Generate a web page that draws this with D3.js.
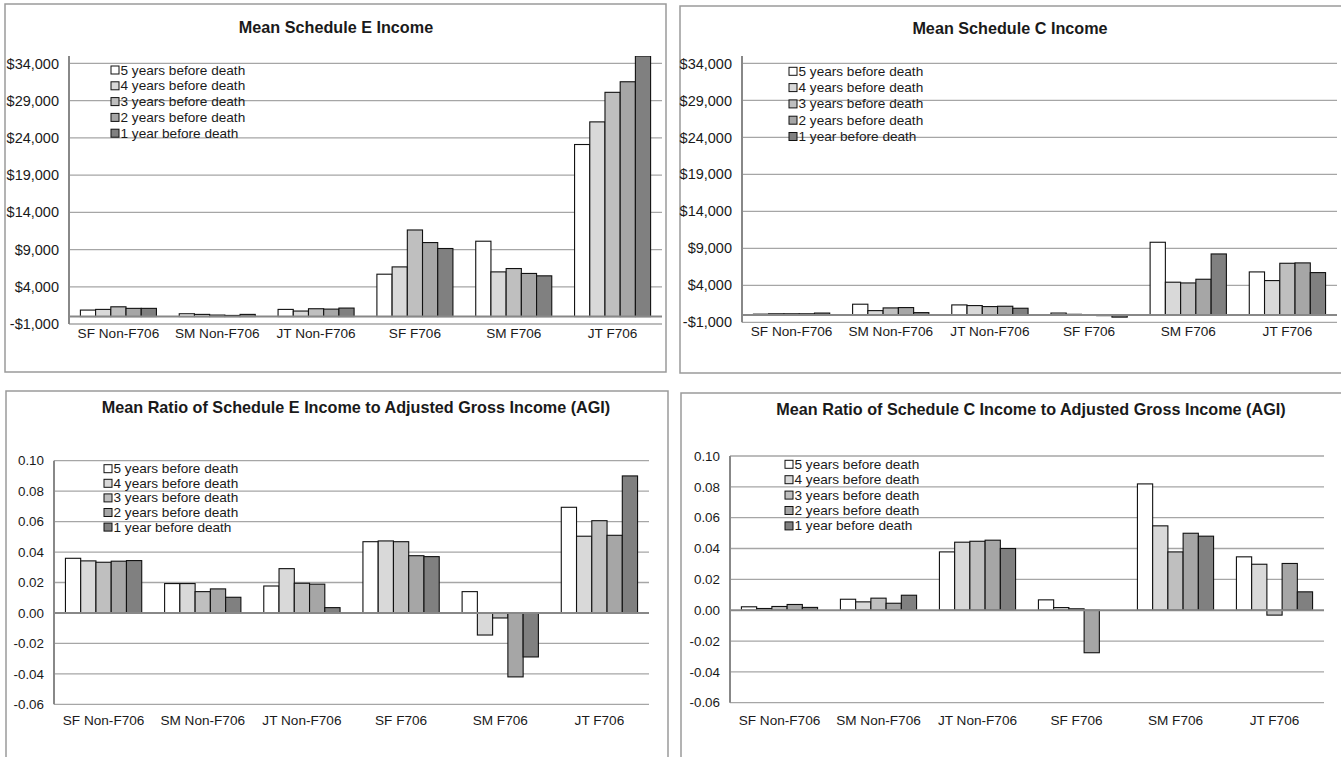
<!DOCTYPE html>
<html>
<head>
<meta charset="utf-8">
<script src="https://cdn.jsdelivr.net/npm/d3@7"></script>
<style>
  html, body { margin: 0; padding: 0; background: #fff; }
  svg { display: block; font-family: "Liberation Sans", Arial, sans-serif; }
</style>
</head>
<body>
<svg id="chart" width="1341" height="757"></svg>
<script>
// Filer groups shown along the x axis of every panel
const categories = ["SF Non-F706", "SM Non-F706", "JT Non-F706", "SF F706", "SM F706", "JT F706"];

// Years before death, one bar per entry within each group
const seriesNames = [
  "5 years before death",
  "4 years before death",
  "3 years before death",
  "2 years before death",
  "1 year before death"
];
const seriesColors = ["#ffffff", "#d9d9d9", "#bfbfbf", "#a6a6a6", "#808080"];

// Mean Schedule E income (dollars), rows follow categories, columns follow seriesNames
const scheduleEIncome = [
  [870, 960, 1310, 1100, 1100],
  [375, 290, 200, 150, 290],
  [960, 740, 1050, 1000, 1140],
  [5690, 6670, 11630, 9940, 9140],
  [10120, 6000, 6450, 5790, 5470],
  [23110, 26150, 30120, 31540, 35000]
];

// Mean Schedule C income (dollars)
const scheduleCIncome = [
  [100, 150, 150, 150, 250],
  [1445, 580, 945, 990, 310],
  [1350, 1260, 1125, 1170, 900],
  [250, 80, 40, -100, -300],
  [9820, 4420, 4320, 4820, 8240],
  [5810, 4640, 6980, 7030, 5720]
];

// Mean ratio of Schedule E income to AGI
const scheduleERatio = [
  [0.0359, 0.0342, 0.0333, 0.0340, 0.0344],
  [0.0193, 0.0193, 0.0140, 0.0158, 0.0103],
  [0.0177, 0.0291, 0.0195, 0.0189, 0.0035],
  [0.0468, 0.0473, 0.0468, 0.0376, 0.0370],
  [0.0140, -0.0145, -0.0033, -0.0420, -0.0289],
  [0.0694, 0.0504, 0.0606, 0.0510, 0.0900]
];

// Mean ratio of Schedule C income to AGI
const scheduleCRatio = [
  [0.0022, 0.0011, 0.0024, 0.0037, 0.0018],
  [0.0071, 0.0054, 0.0078, 0.0045, 0.0097],
  [0.0378, 0.0441, 0.0447, 0.0454, 0.0400],
  [0.0067, 0.0017, 0.0009, -0.0276, 0.0000],
  [0.0819, 0.0547, 0.0378, 0.0499, 0.0480],
  [0.0346, 0.0298, -0.0032, 0.0303, 0.0119]
];

// Axis tick values
const dollarTicks = [-1000, 4000, 9000, 14000, 19000, 24000, 29000, 34000];
const ratioTicks = [-0.06, -0.04, -0.02, 0.00, 0.02, 0.04, 0.06, 0.08, 0.10];

const fmtThousands = d3.format(",");
const dollarFormat = v => (v < 0 ? "-$" : "$") + fmtThousands(Math.abs(v));
const ratioFormat = v => (v < 0 ? "-" : "") + Math.abs(v).toFixed(2);

const svg = d3.select("#chart");

const panels = [
  {
    id: "p1", title: "Mean Schedule E Income", data: scheduleEIncome,
    frame: { x: 5, y: 4, w: 661, h: 368 },
    plot: { left: 69, right: 662, top: 56, bottom: 324 },
    domain: [-1000, 35000], ticks: dollarTicks, format: dollarFormat, tickSize: 14.5,
    titlePos: [336, 27], catY: 333,
    legend: { x: 111, y: 70, step: 15.8 }
  },
  {
    id: "p2", title: "Mean Schedule C Income", data: scheduleCIncome,
    frame: { x: 680, y: 6, w: 664, h: 367 },
    plot: { left: 742, right: 1337, top: 56, bottom: 322.3 },
    domain: [-1000, 35000], ticks: dollarTicks, format: dollarFormat, tickSize: 14.5,
    titlePos: [1010, 28.3], catY: 331.7,
    legend: { x: 789, y: 71.3, step: 16.3 }
  },
  {
    id: "p3", title: "Mean Ratio of Schedule E Income to Adjusted Gross Income (AGI)", data: scheduleERatio,
    frame: { x: 6, y: 391, w: 662, h: 380 },
    plot: { left: 54, right: 649, top: 460.7, bottom: 704.3 },
    domain: [-0.06, 0.10], ticks: ratioTicks, format: ratioFormat, tickSize: 13.4,
    titlePos: [356, 406.7], catY: 720.7,
    legend: { x: 104, y: 468.7, step: 14.6 }
  },
  {
    id: "p4", title: "Mean Ratio of Schedule C Income to Adjusted Gross Income (AGI)", data: scheduleCRatio,
    frame: { x: 681, y: 393, w: 664, h: 380 },
    plot: { left: 730, right: 1324, top: 456, bottom: 702.7 },
    domain: [-0.06, 0.10], ticks: ratioTicks, format: ratioFormat, tickSize: 13.4,
    titlePos: [1031, 409.3], catY: 720,
    legend: { x: 785, y: 464.3, step: 15.4 }
  }
];

panels.forEach(p => {
  const g = svg.append("g").attr("class", "panel " + p.id);

  // chart area border
  g.append("rect")
    .attr("x", p.frame.x).attr("y", p.frame.y)
    .attr("width", p.frame.w).attr("height", p.frame.h)
    .attr("fill", "#fff").attr("stroke", "#9a9a9a").attr("stroke-width", 1.5);

  // title
  g.append("text")
    .attr("x", p.titlePos[0]).attr("y", p.titlePos[1])
    .attr("text-anchor", "middle").attr("dominant-baseline", "central")
    .attr("font-size", 16.2).attr("font-weight", "bold").attr("fill", "#1a1a1a")
    .text(p.title);

  const y = d3.scaleLinear().domain(p.domain).range([p.plot.bottom, p.plot.top]);
  const x0 = d3.scaleBand().domain(categories).range([p.plot.left, p.plot.right]).padding(0);
  const x1 = d3.scaleBand().domain(seriesNames).range([0, x0.bandwidth()])
    .paddingInner(0).paddingOuter(0.75);

  // horizontal gridlines
  g.append("g").selectAll("line")
    .data(p.ticks.filter(t => Math.abs(t) > 1e-9))
    .join("line")
    .attr("x1", p.plot.left).attr("x2", p.plot.right)
    .attr("y1", d => y(d)).attr("y2", d => y(d))
    .attr("stroke", "#a6a6a6").attr("stroke-width", 1.3);

  // y axis with tick labels
  const yAxis = d3.axisLeft(y).tickValues(p.ticks).tickFormat(p.format).tickSize(0).tickPadding(10);
  const ya = g.append("g").attr("transform", `translate(${p.plot.left},0)`).call(yAxis);
  ya.select(".domain").remove();
  ya.selectAll("text")
    .attr("font-family", "'Liberation Sans', Arial, sans-serif")
    .attr("font-size", p.tickSize).attr("fill", "#1a1a1a");
  g.append("line")
    .attr("x1", p.plot.left).attr("x2", p.plot.left)
    .attr("y1", p.plot.top).attr("y2", p.plot.bottom)
    .attr("stroke", "#888").attr("stroke-width", 2);

  // clip so that values past the axis maximum stop at the plot top
  svg.append("defs").append("clipPath").attr("id", "clip-" + p.id)
    .append("rect")
    .attr("x", p.plot.left).attr("y", p.plot.top)
    .attr("width", p.plot.right - p.plot.left).attr("height", p.plot.bottom - p.plot.top);

  // bars
  const groups = g.append("g").attr("clip-path", `url(#clip-${p.id})`)
    .selectAll("g")
    .data(p.data.map((vals, i) => ({ cat: categories[i], vals })))
    .join("g")
    .attr("transform", d => `translate(${x0(d.cat)},0)`);

  groups.selectAll("rect")
    .data(d => d.vals.map((v, j) => ({ key: seriesNames[j], v, color: seriesColors[j] })))
    .join("rect")
    .attr("x", d => x1(d.key))
    .attr("width", x1.bandwidth())
    .attr("y", d => y(Math.max(0, d.v)))
    .attr("height", d => Math.abs(y(d.v) - y(0)))
    .attr("fill", d => d.color)
    .attr("stroke", "#111").attr("stroke-width", 1.1);

  // zero line drawn over the bars
  g.append("line")
    .attr("x1", p.plot.left).attr("x2", p.plot.right)
    .attr("y1", y(0)).attr("y2", y(0))
    .attr("stroke", "#888").attr("stroke-width", 2);

  // category labels
  const xAxis = d3.axisBottom(x0).tickSize(0).tickPadding(0);
  const xa = g.append("g").attr("transform", `translate(0,${p.catY})`).call(xAxis);
  xa.select(".domain").remove();
  xa.selectAll("text")
    .attr("dy", null).attr("y", 0)
    .attr("dominant-baseline", "central")
    .attr("font-family", "'Liberation Sans', Arial, sans-serif")
    .attr("font-size", 13.6).attr("fill", "#1a1a1a");

  // legend
  const lg = g.append("g").selectAll("g")
    .data(seriesNames)
    .join("g")
    .attr("transform", (d, i) => `translate(${p.legend.x},${p.legend.y + i * p.legend.step})`);
  lg.append("rect")
    .attr("x", 0).attr("y", -4).attr("width", 8).attr("height", 8)
    .attr("fill", (d, i) => seriesColors[i]).attr("stroke", "#111").attr("stroke-width", 1);
  lg.append("text")
    .attr("x", 9.5).attr("y", 0).attr("dominant-baseline", "central")
    .attr("font-size", 13.6).attr("fill", "#1a1a1a")
    .text(d => d);
});
</script>
</body>
</html>
